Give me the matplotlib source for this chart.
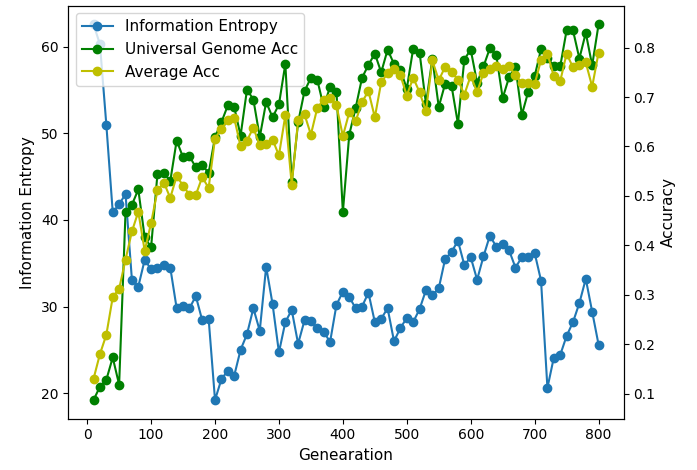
import numpy as np
import matplotlib
matplotlib.use('Agg')
import matplotlib.pyplot as plt

# generations 10..800
generations = list(range(10, 801, 10))

entropy = [62.6, 60.3, 51.0, 40.9, 41.8, 43.0, 33.1, 32.3, 35.4, 34.3,
           34.4, 34.8, 34.5, 29.8, 30.1, 29.8, 31.2, 28.4, 28.6, 19.2,
           21.6, 22.6, 22.0, 25.0, 26.8, 29.8, 27.2, 34.6, 30.3, 24.7,
           28.2, 29.6, 25.7, 28.4, 28.3, 27.5, 27.1, 25.9, 30.2, 31.7,
           31.1, 29.8, 30.0, 31.6, 28.2, 28.6, 29.8, 26.0, 27.5, 28.7,
           28.2, 29.7, 31.9, 31.3, 32.1, 35.5, 36.3, 37.6, 34.8, 35.7,
           33.1, 35.8, 38.2, 36.9, 37.2, 36.5, 34.5, 35.7, 35.7, 36.2,
           33.0, 20.6, 24.1, 24.4, 26.6, 28.2, 30.4, 33.2, 29.4, 25.6]

universal_acc = [0.087, 0.114, 0.128, 0.173, 0.118, 0.467, 0.482, 0.513, 0.416, 0.396,
                 0.545, 0.547, 0.530, 0.612, 0.578, 0.580, 0.558, 0.563, 0.546, 0.619,
                 0.649, 0.683, 0.680, 0.622, 0.715, 0.695, 0.619, 0.690, 0.659, 0.685,
                 0.767, 0.528, 0.649, 0.712, 0.739, 0.735, 0.680, 0.721, 0.711, 0.467,
                 0.624, 0.678, 0.739, 0.765, 0.788, 0.750, 0.796, 0.767, 0.755, 0.717,
                 0.798, 0.790, 0.686, 0.778, 0.680, 0.727, 0.723, 0.646, 0.776, 0.796,
                 0.729, 0.762, 0.799, 0.785, 0.698, 0.740, 0.761, 0.664, 0.711, 0.742,
                 0.797, 0.780, 0.762, 0.762, 0.835, 0.835, 0.778, 0.830, 0.764, 0.847]

average_acc = [0.130, 0.180, 0.219, 0.295, 0.312, 0.371, 0.428, 0.468, 0.389, 0.445,
               0.511, 0.527, 0.496, 0.540, 0.521, 0.502, 0.502, 0.538, 0.516, 0.616,
               0.636, 0.653, 0.658, 0.600, 0.612, 0.638, 0.602, 0.605, 0.614, 0.582,
               0.663, 0.523, 0.653, 0.665, 0.624, 0.678, 0.695, 0.699, 0.683, 0.621,
               0.669, 0.651, 0.690, 0.712, 0.659, 0.730, 0.748, 0.757, 0.744, 0.703,
               0.739, 0.710, 0.671, 0.774, 0.734, 0.761, 0.751, 0.735, 0.705, 0.743,
               0.710, 0.749, 0.756, 0.762, 0.757, 0.763, 0.744, 0.729, 0.728, 0.726,
               0.775, 0.788, 0.742, 0.732, 0.788, 0.760, 0.765, 0.770, 0.721, 0.790]

fig, ax = plt.subplots(figsize=(6.97, 4.70), dpi=100)
ax2 = ax.twinx()

l1, = ax.plot(generations, entropy, 'o-', color='#1f77b4', label='Information Entropy')
l2, = ax2.plot(generations, universal_acc, 'o-', color='g', label='Universal Genome Acc')
l3, = ax2.plot(generations, average_acc, 'o-', color='y', label='Average Acc')

ax.set_xlabel('Genearation', fontsize=11)
ax.set_ylabel('Information Entropy', fontsize=11)
ax2.set_ylabel('Accuracy', fontsize=11)

# legend sits on the left axes, so the accuracy lines are drawn over it
ax.legend(handles=[l1, l2, l3], loc='upper left', fontsize=11)

plt.subplots_adjust(left=0.098, right=0.895, top=0.988, bottom=0.109)
plt.savefig('out.png', dpi=100)
